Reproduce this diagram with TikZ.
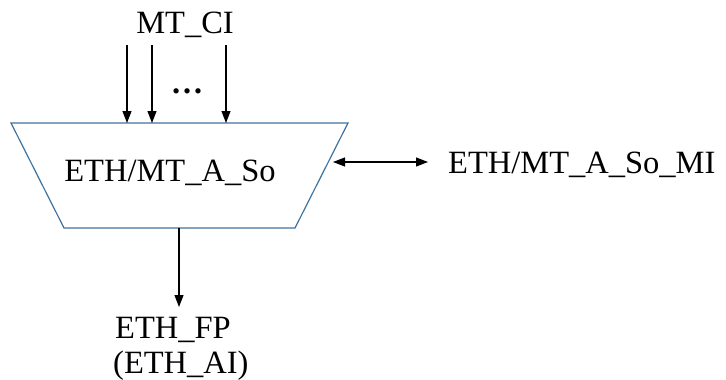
\documentclass[tikz,border=0pt]{standalone}
\usepackage{fontspec}
\setmainfont{Liberation Serif}
\usetikzlibrary{arrows.meta}
\definecolor{boxblue}{HTML}{41719C}
\begin{document}
\begin{tikzpicture}[x=1pt,y=-1pt,
  lbl/.style={font=\fontsize{32.5}{38}\selectfont, inner sep=0pt, anchor=base},
  arr/.style={line width=1.2pt, -{Triangle[length=12pt,width=9pt]}},
  darr/.style={line width=1.2pt, {Triangle[length=12pt,width=9pt]}-{Triangle[length=12pt,width=9pt]}}]
\useasboundingbox (0,0) rectangle (726,380);
% trapezoid
\coordinate (tl) at (11,123);
\coordinate (tr) at (348,123);
\coordinate (br) at (295,228);
\coordinate (bl) at (64,228);
\draw[boxblue, line width=1.2pt] (tl) -- (tr) -- (br) -- (bl) -- cycle;
\node[lbl] (so) at (170,181) {ETH/MT\_A\_So};
% inputs
\node[lbl] (ci) at (185,33) {MT\_CI};
\node[lbl, font=\bfseries\fontsize{32.5}{38}\selectfont] (dots) at (187,93) {\ldots};
\coordinate (i1s) at (127,45); \coordinate (i1e) at (127,123);
\coordinate (i2s) at (152,45); \coordinate (i2e) at (152,123);
\coordinate (i3s) at (226,45); \coordinate (i3e) at (226,123);
\draw[arr] (i1s) -- (i1e);
\draw[arr] (i2s) -- (i2e);
\draw[arr] (i3s) -- (i3e);
% management interface
\node[lbl, anchor=base west] (mi) at (448,173) {ETH/MT\_A\_So\_MI};
\coordinate (m1) at (333,162); \coordinate (m2) at (428,162);
\draw[darr] (m1) -- (m2);
% output
\coordinate (os) at (179,228); \coordinate (oe) at (179,307);
\draw[arr] (os) -- (oe);
\node[lbl, anchor=base west] (fp) at (115,338) {ETH\_FP};
\node[lbl, anchor=base west] (ai) at (113,373) {(ETH\_AI)};
\end{tikzpicture}
\end{document}
